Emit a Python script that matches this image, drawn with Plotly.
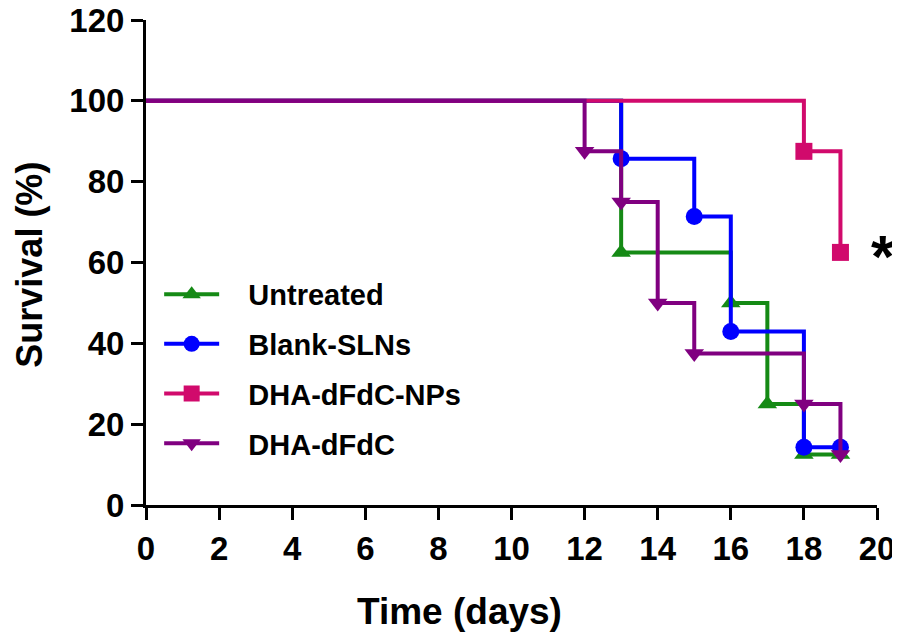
from plotly import graph_objects as go

# Kaplan-Meier style survival data (days, % survival)
untreated_days = [0, 13, 16, 17, 18, 19]
untreated_surv = [100, 62.5, 50, 25, 12.5, 12.5]

blank_days = [0, 13, 15, 16, 18, 19]
blank_surv = [100, 85.7, 71.4, 42.9, 14.3, 14.3]

nps_days = [0, 18, 19]
nps_surv = [100, 87.5, 62.5]

dfdc_days = [0, 12, 13, 14, 15, 18, 19]
dfdc_surv = [100, 87.5, 75, 50, 37.5, 25, 12.5]

series = [
    ("Untreated", untreated_days, untreated_surv, "#158a15", "triangle-up"),
    ("Blank-SLNs", blank_days, blank_surv, "#0000ff", "circle"),
    ("DHA-dFdC-NPs", nps_days, nps_surv, "#d10a6c", "square"),
    ("DHA-dFdC", dfdc_days, dfdc_surv, "#800080", "triangle-down"),
]

FONT = "Liberation Sans, Arial, sans-serif"
MSIZE = 17

fig = go.Figure()
for name, days, surv, color, symbol in series:
    # step line
    fig.add_trace(go.Scatter(
        x=days, y=surv, mode="lines", showlegend=False, legendgroup=name,
        line=dict(color=color, width=4, shape="hv"), hoverinfo="skip",
    ))
    # markers at each event (not at day 0)
    fig.add_trace(go.Scatter(
        x=days[1:], y=surv[1:], mode="markers", showlegend=False, legendgroup=name,
        marker=dict(color=color, symbol=symbol, size=MSIZE, opacity=1, line=dict(width=0)),
        cliponaxis=False, name=name,
    ))
    # legend entry only
    fig.add_trace(go.Scatter(
        x=[None], y=[None], mode="lines+markers", legendgroup=name,
        name="&nbsp;&nbsp;&nbsp;" + name,
        line=dict(color=color, width=4),
        marker=dict(color=color, symbol=symbol, size=MSIZE, line=dict(width=0)),
    ))

# significance marker next to the DHA-dFdC-NPs curve
fig.add_annotation(x=19, y=nps_surv[-1], text="*", showarrow=False,
                   xanchor="center", yanchor="middle", xshift=43, yshift=-4,
                   font=dict(family=FONT, size=60, color="black", weight="bold"))

# axis titles
fig.add_annotation(text="Time (days)", xref="paper", yref="paper", x=0.4295, y=-0.2206,
                   xanchor="center", yanchor="middle", showarrow=False,
                   font=dict(family=FONT, size=37, color="black", weight="bold"))
fig.add_annotation(text="Survival (%)", xref="paper", yref="paper", x=-0.159, y=0.495,
                   xanchor="center", yanchor="middle", showarrow=False, textangle=-90,
                   font=dict(family=FONT, size=36, color="black", weight="bold"))

axis_common = dict(
    showgrid=False, zeroline=False, showline=True, linecolor="black", linewidth=3,
    ticks="outside", ticklen=12, tickwidth=3, tickcolor="black", automargin=False,
    ticklabeloverflow="allow",
    tickfont=dict(family=FONT, size=33, color="black", weight="bold"),
)

fig.update_xaxes(range=[0, 20], dtick=2, **axis_common)
fig.update_yaxes(range=[0, 120], dtick=20, **axis_common)

# page body has an 8px margin, so the figure is 8px smaller than the window
fig.update_layout(
    width=892, height=634,
    margin=dict(l=138, r=23, t=12, b=137),
    plot_bgcolor="white", paper_bgcolor="white",
    legend=dict(x=0.018, y=0.487, xanchor="left", yanchor="top",
                font=dict(family=FONT, size=29, color="black", weight="bold"),
                itemwidth=55, tracegroupgap=9, traceorder="grouped",
                bgcolor="rgba(0,0,0,0)"),
)

fig.write_html("out.html")
